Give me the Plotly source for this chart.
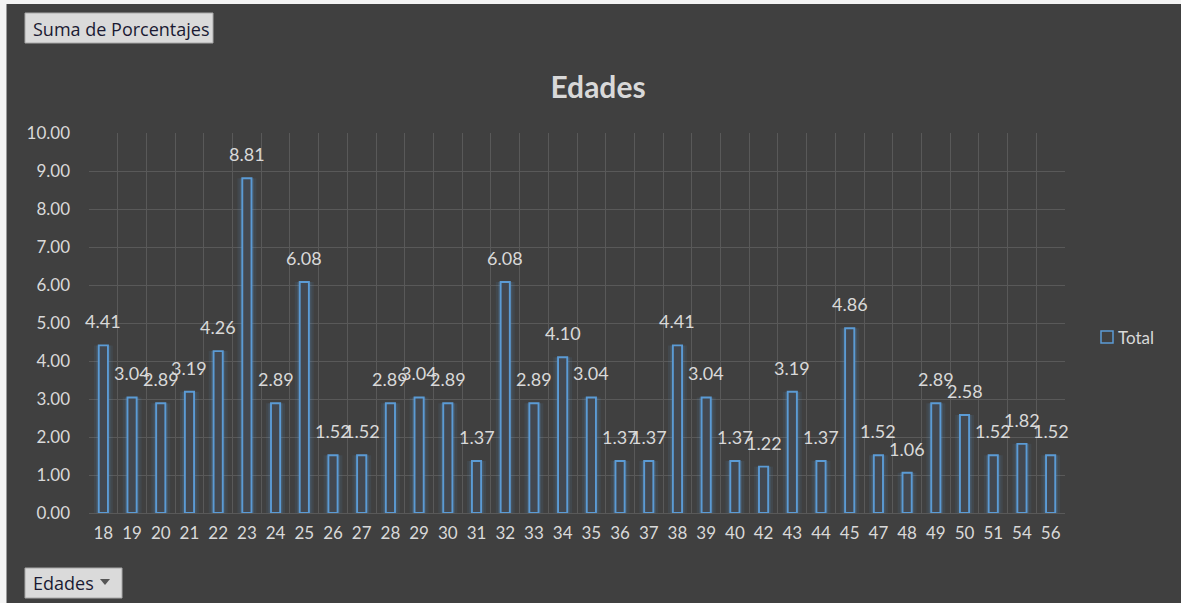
import plotly.graph_objects as go

ages = ["18","19","20","21","22","23","24","25","26","27","28","29","30","31","32","33","34",
        "35","36","37","38","39","40","42","43","44","45","47","48","49","50","51","54","56"]
values = [4.41,3.04,2.89,3.19,4.26,8.81,2.89,6.08,1.52,1.52,2.89,3.04,2.89,1.37,6.08,2.89,4.10,
          3.04,1.37,1.37,4.41,3.04,1.37,1.22,3.19,1.37,4.86,1.52,1.06,2.89,2.58,1.52,1.82,1.52]
y_ticks = [0,1,2,3,4,5,6,7,8,9,10]
series_name = "Total"

W, H = 1181, 603
L, R, T, B = 89, 1065, 133, 513
def px(x): return (x - L) / (R - L)
def py(y): return (B - y) / (B - T)

BG = "#404040"
TXT = "#D9D9D9"
BLUE = "#5B9BD5"
FONT = "Lato"
FS = 17

fig = go.Figure()
# glow layers
fig.add_trace(go.Bar(x=ages, y=values, width=0.66, marker=dict(color="rgba(91,155,213,0.09)", line=dict(width=0)),
                     showlegend=False, hoverinfo="skip"))
fig.add_trace(go.Bar(x=ages, y=values, width=0.50, marker=dict(color="rgba(91,155,213,0.15)", line=dict(width=0)),
                     showlegend=False, hoverinfo="skip"))
# main outlined bars
fig.add_trace(go.Bar(x=ages, y=values, width=0.32, name=series_name, showlegend=False,
                     marker=dict(color="#434850", line=dict(color=BLUE, width=1.9))))

shapes = [
    dict(type="rect", xref="paper", yref="paper", x0=px(0), x1=px(W), y0=py(0), y1=py(4),
         fillcolor="#F4F4F4", line=dict(width=0), layer="above"),
    dict(type="rect", xref="paper", yref="paper", x0=px(0), x1=px(6), y0=py(0), y1=py(H),
         fillcolor="#F4F4F4", line=dict(width=0), layer="above"),
    dict(type="rect", xref="paper", yref="paper", x0=px(6), x1=px(7), y0=py(4), y1=py(H),
         fillcolor="#9A9A9A", line=dict(width=0), layer="above"),
    # buttons
    dict(type="rect", xref="paper", yref="paper", x0=px(25), x1=px(213), y0=py(13), y1=py(43),
         fillcolor="#DADADA", line=dict(color="#A8A8A8", width=1), layer="above"),
    dict(type="rect", xref="paper", yref="paper", x0=px(25), x1=px(122), y0=py(568), y1=py(598),
         fillcolor="#DADADA", line=dict(color="#A8A8A8", width=1), layer="above"),
    dict(type="path", xref="paper", yref="paper",
         path=f"M {px(100)} {py(579)} L {px(110)} {py(579)} L {px(105)} {py(585)} Z",
         fillcolor="#555555", line=dict(width=0), layer="above"),
    # legend marker
    dict(type="rect", xref="paper", yref="paper", x0=px(1101), x1=px(1113), y0=py(331), y1=py(343),
         fillcolor="rgba(0,0,0,0)", line=dict(color=BLUE, width=1.5), layer="above"),
]

annotations = [
    dict(text="Suma de Porcentajes", xref="paper", yref="paper", x=px(121), y=py(29),
         xanchor="center", yanchor="middle", showarrow=False,
         font=dict(family="Open Sans", size=18, color="#1A1A33")),
    dict(text="Edades", xref="paper", yref="paper", x=px(31), y=py(583),
         xanchor="left", yanchor="middle", showarrow=False,
         font=dict(family="Open Sans", size=18, color="#1A1A33")),
    dict(text=series_name, xref="paper", yref="paper", x=px(1116), y=py(337),
         xanchor="left", yanchor="middle", showarrow=False,
         font=dict(family=FONT, size=FS, color=TXT)),
]
# data labels (x given as category index on the category axis)
for i, v in enumerate(values):
    annotations.append(dict(text=f"{v:.2f}", x=i, y=v, xref="x", yref="y", xanchor="center",
                            yanchor="bottom", yshift=11, showarrow=False,
                            font=dict(family=FONT, size=18, color=TXT)))

fig.update_layout(
    width=W, height=H,
    margin=dict(l=L, r=W - R, t=T, b=H - B, pad=0),
    paper_bgcolor=BG, plot_bgcolor=BG,
    barmode="overlay",
    font=dict(family=FONT, color=TXT, size=FS),
    title=dict(text="<b>Edades</b>", x=598 / W, xref="container", xanchor="center",
               y=1 - 87 / H, yref="container", yanchor="middle",
               font=dict(family=FONT, size=30, color=TXT)),
    xaxis=dict(type="category", categoryorder="array", categoryarray=ages, range=[-0.5, len(ages) - 0.5],
               tickson="boundaries", showgrid=True, gridcolor="#595959", gridwidth=1,
               ticks="", tickangle=0, tickfont=dict(color=TXT, size=FS, family=FONT), ticklabelstandoff=8,
               showline=False, zeroline=False),
    yaxis=dict(range=[0, 10], tickvals=y_ticks, tickformat=".2f", showgrid=True, gridcolor="#595959",
               gridwidth=1, ticks="", tickfont=dict(color=TXT, size=FS, family=FONT), ticklabelstandoff=18,
               zeroline=True, zerolinecolor="#595959", zerolinewidth=1),
    shapes=shapes, annotations=annotations, showlegend=False,
)

fig.write_html("out.html")
